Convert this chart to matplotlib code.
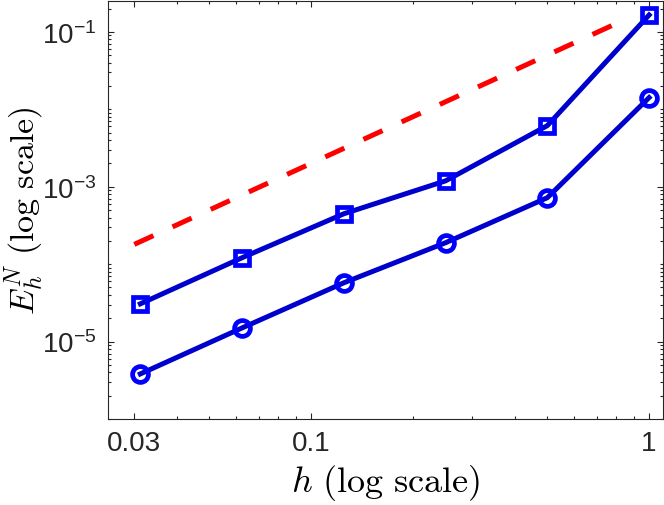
import numpy as np
import matplotlib
matplotlib.use("Agg")
from matplotlib import pyplot as plt
from matplotlib.ticker import FixedLocator, FixedFormatter

plt.rcParams["font.family"] = ["Liberation Sans", "DejaVu Sans"]
plt.rcParams["mathtext.fontset"] = "custom"
plt.rcParams["mathtext.rm"] = "Liberation Sans"
plt.rcParams["mathtext.it"] = "Liberation Sans:italic"

# mesh sizes and errors
h = [1/32, 1/16, 1/8, 1/4, 1/2, 1]
err_sq = [3.07e-5, 1.21e-4, 4.47e-4, 1.19e-3, 6.15e-3, 0.165]
err_circ = [3.82e-6, 1.50e-5, 5.74e-5, 1.89e-4, 7.21e-4, 0.01415]
# slope-2 reference line
ref_h = [0.03, 0.8]
ref_err = [1.8e-4, 0.128]

xticks = [0.03, 0.1, 1]
xticklabels = ["0.03", "0.1", "1"]
yticks = [1e-5, 1e-3, 1e-1]
yticklabels = [r"$\mathregular{10^{-5}}$", r"$\mathregular{10^{-3}}$", r"$\mathregular{10^{-1}}$"]

gray = "#262626"
fig = plt.figure(figsize=(6.64, 5.06), dpi=100)
ax = fig.add_axes([0.162, 0.170, 0.8366, 0.826])

ax.loglog(ref_h, ref_err, color="#ff0000", lw=3.6, dashes=(4.2, 4.2),
          dash_capstyle="butt")
ax.loglog(h, err_sq, color="#0000cc", lw=3.6, marker="s", ms=9.4,
          mew=3.4, mfc="none", mec="#0000ff")
ax.loglog(h, err_circ, color="#0000cc", lw=3.6, marker="o", ms=11.4,
          mew=3.4, mfc="none", mec="#0000ff")

ax.set_xlim(0.025, 1.1)
ax.set_ylim(1e-6, 0.25)

ax.xaxis.set_major_locator(FixedLocator(xticks))
ax.xaxis.set_major_formatter(FixedFormatter(xticklabels))
xminor = [k * 0.01 for k in range(4, 10)] + [k * 0.1 for k in range(2, 10)]
ax.xaxis.set_minor_locator(FixedLocator(xminor))
ax.yaxis.set_major_locator(FixedLocator(yticks))
ax.yaxis.set_major_formatter(FixedFormatter(yticklabels))
yminor = [k * 10.0 ** e for e in range(-7, 0) for k in range(1, 10)
          if not (k == 1 and e in (-5, -3, -1))]
ax.yaxis.set_minor_locator(FixedLocator(yminor))
ax.xaxis.set_minor_formatter(FixedFormatter([]))
ax.yaxis.set_minor_formatter(FixedFormatter([]))

ax.tick_params(which="both", direction="in", top=True, right=True,
               colors=gray, labelsize=20, width=0.8)
ax.tick_params(which="major", length=4, pad=8)
ax.tick_params(which="minor", length=2.4)
for s in ax.spines.values():
    s.set_color(gray)
    s.set_linewidth(0.8)

ax.set_xlabel(r"$h\ \mathrm{(log\ scale)}$", fontsize=26, math_fontfamily="cm",
              labelpad=4)
ax.set_ylabel(r"$E_h^N\ \mathrm{(log\ scale)}$", fontsize=24.5,
              math_fontfamily="cm", labelpad=-3)

plt.savefig("out.png", dpi=100)
